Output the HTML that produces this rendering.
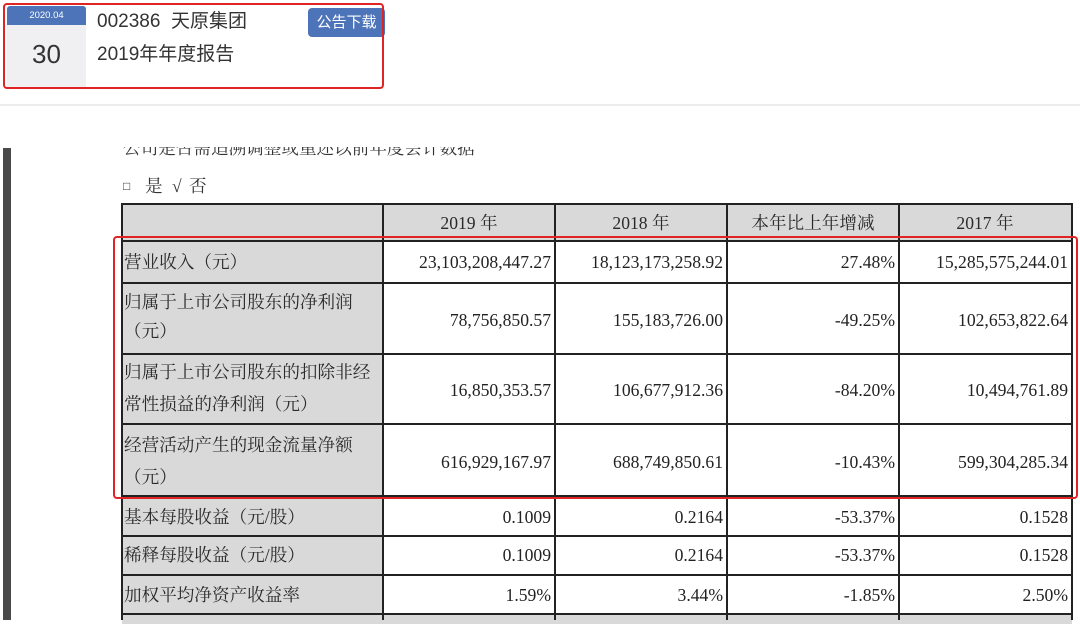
<!DOCTYPE html>
<html><head><meta charset="utf-8">
<style>
html,body{margin:0;padding:0;background:#fff;}
body{width:1080px;height:620px;position:relative;overflow:hidden;font-family:"Liberation Sans","Noto Sans CJK SC",sans-serif;}
.abs{position:absolute;}
.serif{font-family:"Liberation Serif","Noto Serif CJK SC",serif;color:#222;}
.cell{position:absolute;box-sizing:border-box;}
.g{background:#d9d9d9;}
.w{background:#fff;}
.hl{position:absolute;height:2px;background:#222;}
.vl{position:absolute;width:2px;background:#222;}
.num{position:absolute;font-size:17.6px;text-align:right;white-space:nowrap;line-height:20px;}
.lab{position:absolute;font-size:17.6px;white-space:nowrap;line-height:20px;color:#2a2a2a;}
.hd{position:absolute;font-size:17.6px;text-align:center;white-space:nowrap;line-height:20px;color:#2a2a2a;}
</style></head><body>

<!-- top card -->
<div class="abs" style="left:7px;top:6px;width:79px;height:19px;background:#4d74b9;border-radius:3px 3px 0 0;"></div>
<div class="abs" style="left:7px;top:7px;width:79px;height:18px;color:#fff;font-size:9.5px;line-height:18px;text-align:center;">2020.04</div>
<div class="abs" style="left:7px;top:25px;width:79px;height:62px;background:#f0f0f2;"></div>
<div class="abs" style="left:7px;top:38px;width:79px;text-align:center;font-size:26px;line-height:32px;color:#333;">30</div>
<div class="abs" style="left:97px;top:10px;font-size:19px;line-height:24px;color:#333;white-space:nowrap;">002386&nbsp; 天原集团</div>
<div class="abs" style="left:97px;top:43px;font-size:19px;line-height:24px;color:#333;white-space:nowrap;">2019年年度报告</div>
<div class="abs" style="left:308px;top:8px;width:77px;height:29px;background:#4d74b9;border-radius:4px;color:#fff;font-size:15px;line-height:29px;text-align:center;">公告下载</div>
<div class="abs" style="left:3px;top:3px;width:377px;height:82px;border:2.5px solid #e02424;border-radius:4px;"></div>

<!-- separator -->
<div class="abs" style="left:0;top:104px;width:1080px;height:2px;background:#ececec;"></div>

<!-- left bar -->
<div class="abs" style="left:3px;top:148px;width:8px;height:472px;background:#4a4a4a;"></div>

<!-- clipped heading -->
<div class="abs" style="left:123px;top:147px;width:380px;height:11px;overflow:hidden;">
  <div class="serif" style="position:absolute;left:0;top:-9px;font-size:17.6px;line-height:20px;white-space:nowrap;color:#333;">公司是否需追溯调整或重述以前年度会计数据</div>
</div>
<div class="serif">
<div class="abs" style="left:123px;top:176px;font-size:12px;line-height:20px;color:#333;">□</div>
<div class="abs" style="left:145px;top:175px;font-size:17.6px;line-height:22px;color:#333;">是</div>
<div class="abs" style="left:172px;top:175px;font-size:17.6px;line-height:22px;color:#333;">√</div>
<div class="abs" style="left:189px;top:175px;font-size:17.6px;line-height:22px;color:#333;">否</div>
</div>

<!-- table fills -->
<div class="cell g" style="left:122px;top:204px;width:950px;height:37px;"></div>
<div class="cell g" style="left:122px;top:241px;width:261px;height:373px;"></div>
<div class="cell g" style="left:122px;top:614px;width:950px;height:10px;"></div>

<!-- horizontal lines -->
<div class="hl" style="left:121px;top:203px;width:952px;"></div>
<div class="hl" style="left:121px;top:240px;width:952px;"></div>
<div class="hl" style="left:121px;top:282px;width:952px;"></div>
<div class="hl" style="left:121px;top:353px;width:952px;"></div>
<div class="hl" style="left:121px;top:423px;width:952px;"></div>
<div class="hl" style="left:121px;top:495px;width:952px;"></div>
<div class="hl" style="left:121px;top:535px;width:952px;"></div>
<div class="hl" style="left:121px;top:574px;width:952px;"></div>
<div class="hl" style="left:121px;top:613px;width:952px;"></div>
<!-- vertical lines -->
<div class="vl" style="left:121px;top:203px;height:417px;"></div>
<div class="vl" style="left:382px;top:203px;height:417px;"></div>
<div class="vl" style="left:554px;top:203px;height:417px;"></div>
<div class="vl" style="left:726px;top:203px;height:417px;"></div>
<div class="vl" style="left:898px;top:203px;height:417px;"></div>
<div class="vl" style="left:1071px;top:203px;height:417px;"></div>

<div class="serif">
<!-- header -->
<div class="hd" style="left:383px;width:172px;top:213px;">2019 年</div>
<div class="hd" style="left:555px;width:172px;top:213px;">2018 年</div>
<div class="hd" style="left:727px;width:172px;top:213px;">本年比上年增减</div>
<div class="hd" style="left:899px;width:172px;top:213px;">2017 年</div>

<!-- labels -->
<div class="lab" style="left:124px;top:252px;">营业收入（元）</div>
<div class="lab" style="left:124px;top:292px;">归属于上市公司股东的净利润</div>
<div class="lab" style="left:124px;top:321px;">（元）</div>
<div class="lab" style="left:124px;top:362px;">归属于上市公司股东的扣除非经</div>
<div class="lab" style="left:124px;top:394px;">常性损益的净利润（元）</div>
<div class="lab" style="left:124px;top:435px;">经营活动产生的现金流量净额</div>
<div class="lab" style="left:124px;top:467px;">（元）</div>
<div class="lab" style="left:124px;top:507px;">基本每股收益（元/股）</div>
<div class="lab" style="left:124px;top:545px;">稀释每股收益（元/股）</div>
<div class="lab" style="left:124px;top:585px;">加权平均净资产收益率</div>

<!-- values col 2019 -->
<div class="num" style="left:383px;width:168px;top:252px;">23,103,208,447.27</div>
<div class="num" style="left:383px;width:168px;top:310px;">78,756,850.57</div>
<div class="num" style="left:383px;width:168px;top:380px;">16,850,353.57</div>
<div class="num" style="left:383px;width:168px;top:452px;">616,929,167.97</div>
<div class="num" style="left:383px;width:168px;top:507px;">0.1009</div>
<div class="num" style="left:383px;width:168px;top:545px;">0.1009</div>
<div class="num" style="left:383px;width:168px;top:585px;">1.59%</div>

<!-- 2018 -->
<div class="num" style="left:555px;width:168px;top:252px;">18,123,173,258.92</div>
<div class="num" style="left:555px;width:168px;top:310px;">155,183,726.00</div>
<div class="num" style="left:555px;width:168px;top:380px;">106,677,912.36</div>
<div class="num" style="left:555px;width:168px;top:452px;">688,749,850.61</div>
<div class="num" style="left:555px;width:168px;top:507px;">0.2164</div>
<div class="num" style="left:555px;width:168px;top:545px;">0.2164</div>
<div class="num" style="left:555px;width:168px;top:585px;">3.44%</div>

<!-- change -->
<div class="num" style="left:727px;width:168px;top:252px;">27.48%</div>
<div class="num" style="left:727px;width:168px;top:310px;">-49.25%</div>
<div class="num" style="left:727px;width:168px;top:380px;">-84.20%</div>
<div class="num" style="left:727px;width:168px;top:452px;">-10.43%</div>
<div class="num" style="left:727px;width:168px;top:507px;">-53.37%</div>
<div class="num" style="left:727px;width:168px;top:545px;">-53.37%</div>
<div class="num" style="left:727px;width:168px;top:585px;">-1.85%</div>

<!-- 2017 -->
<div class="num" style="left:899px;width:169px;top:252px;">15,285,575,244.01</div>
<div class="num" style="left:899px;width:169px;top:310px;">102,653,822.64</div>
<div class="num" style="left:899px;width:169px;top:380px;">10,494,761.89</div>
<div class="num" style="left:899px;width:169px;top:452px;">599,304,285.34</div>
<div class="num" style="left:899px;width:169px;top:507px;">0.1528</div>
<div class="num" style="left:899px;width:169px;top:545px;">0.1528</div>
<div class="num" style="left:899px;width:169px;top:585px;">2.50%</div>
</div>

<!-- red highlight box on table -->
<div class="abs" style="left:113px;top:236px;width:961px;height:259px;border:2.5px solid #e02424;border-radius:4px;"></div>

</body></html>
